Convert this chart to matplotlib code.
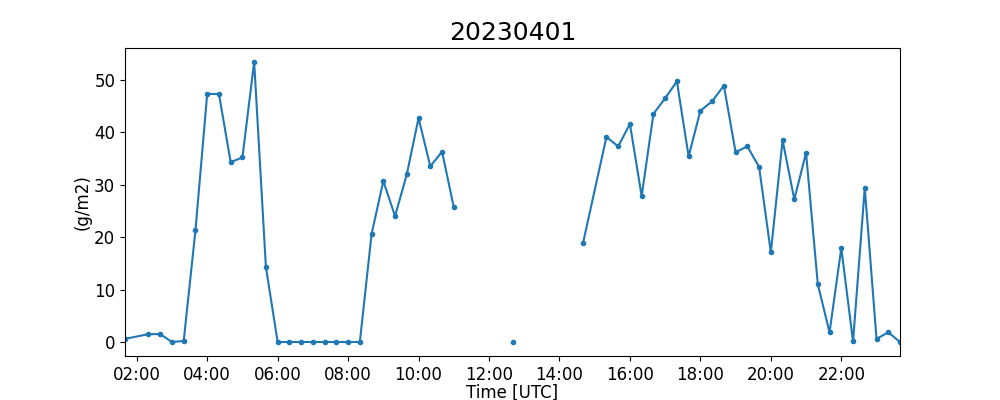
import matplotlib
matplotlib.use("Agg")
import matplotlib.pyplot as plt
import matplotlib.dates as mdates
import numpy as np
import pandas as pd

times = ["01:40", "02:20", "02:40", "03:00", "03:20", "03:40", "04:00", "04:20", "04:40",
         "05:00", "05:20", "05:40", "06:00", "06:20", "06:40", "07:00", "07:20", "07:40",
         "08:00", "08:20", "08:40", "09:00", "09:20", "09:40", "10:00", "10:20", "10:40",
         "11:00", "11:20", "11:40", "12:00", "12:20", "12:40", "13:00", "13:20", "13:40",
         "14:00", "14:20", "14:40", "15:20", "15:40", "16:00", "16:20", "16:40", "17:00",
         "17:20", "17:40", "18:00", "18:20", "18:40", "19:00", "19:20", "19:40", "20:00",
         "20:20", "20:40", "21:00", "21:20", "21:40", "22:00", "22:20", "22:40", "23:00",
         "23:20", "23:40"]
values = [0.6, 1.5, 1.5, 0.0, 0.2, 21.3, 47.3, 47.3, 34.3,
          35.2, 53.4, 14.3, 0.0, 0.0, 0.0, 0.0, 0.0, 0.0,
          0.0, 0.0, 20.6, 30.7, 24.0, 32.0, 42.7, 33.5, 36.3,
          25.7, None, None, None, None, 0.0, None, None, None,
          None, None, 18.8, 39.1, 37.3, 41.6, 27.8, 43.5, 46.5,
          49.7, 35.4, 44.1, 45.9, 48.9, 36.2, 37.3, 33.4, 17.1,
          38.5, 27.2, 36.1, 11.0, 1.85, 17.9, 0.1, 29.4, 0.6,
          1.85, 0.0]

t = pd.to_datetime(["2023-04-01 " + s for s in times])
v = np.array([np.nan if x is None else x for x in values], dtype=float)

fig, ax = plt.subplots(figsize=(10, 4), dpi=100)
ax.plot(t, v, marker='.', color='#1f77b4')
ax.set_xlim(t[0], t[-1])
ax.xaxis.set_major_locator(mdates.HourLocator(byhour=range(0, 24, 2)))
ax.xaxis.set_major_formatter(mdates.DateFormatter('%H:%M'))
ax.set_title("20230401", fontsize=18)
ax.set_xlabel("Time [UTC]", fontsize=12, labelpad=0)
ax.set_ylabel("(g/m2)", fontsize=12, labelpad=2)
ax.tick_params(labelsize=12)
fig.savefig("out.png")
